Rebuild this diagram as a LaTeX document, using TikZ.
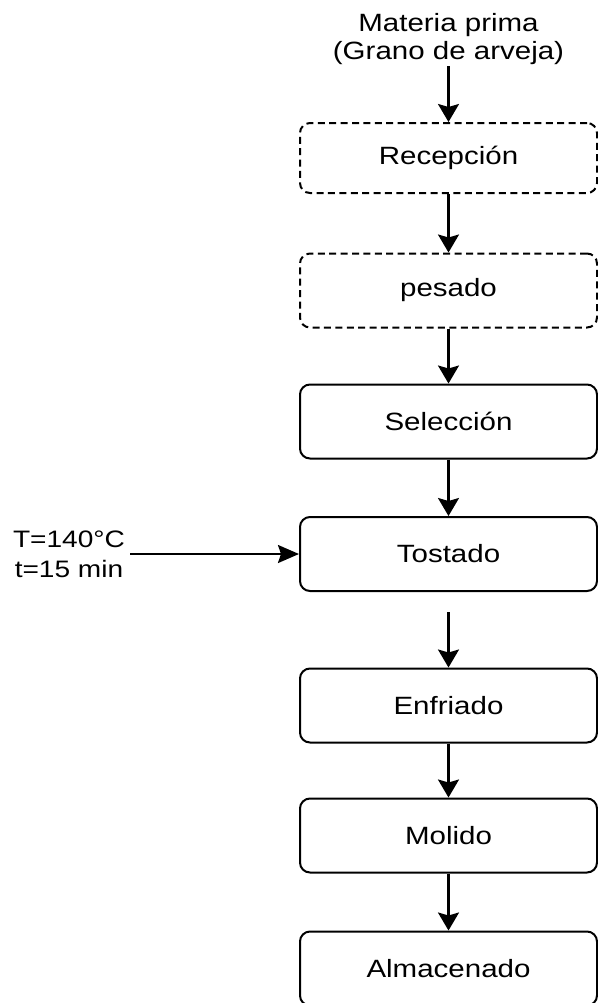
\documentclass[tikz,border=0pt]{standalone}
\usepackage{fontspec}
\setmainfont{Liberation Sans}[FakeStretch=1.18]
\usepackage{tikz}
\usetikzlibrary{arrows.meta}

\tikzset{
    etapa/.style={draw, line width=1pt, rounded corners=5pt, minimum width=148.5pt, minimum height=37pt, font=\fontsize{12.5}{12}\selectfont},
    etapad/.style={etapa, dash pattern=on 3.5pt off 2.2pt},
    texto/.style={align=center, font=\fontsize{12.5}{14.3}\selectfont},
    flecha/.style={line width=1.1pt, -{Stealth[length=9pt, width=10.5pt, inset=1.5pt]}},
    flechah/.style={line width=1.1pt, -{Stealth[length=10.5pt, width=9pt, inset=1.5pt]}}
}

\begin{document}
\begin{tikzpicture}[x=0.5pt, y=-0.5pt]
    \useasboundingbox (0,0) rectangle (598,1003);

    % entrada
    \node[texto, inner sep=0.5pt] (materia) at (448.5,39) {Materia prima\\(Grano de arveja)};

    % etapas
    \node[etapad, minimum height=35pt] (recepcion) at (448.5,158) {Recepción};
    \node[etapad] (pesado) at (448.5,290.5) {pesado};
    \node[etapa] (seleccion) at (448.5,421.5) {Selección};
    \node[etapa] (tostado) at (448.5,554) {Tostado};
    \node[etapa] (enfriado) at (448.5,705.5) {Enfriado};
    \node[etapa] (molido) at (448.5,835.5) {Molido};
    \node[etapa] (almacenado) at (448.5,968.5) {Almacenado};

    % condiciones
    \node[texto, font=\fontsize{11.9}{15}\selectfont, inner sep=2.5pt] (cond) at (69,554) {T=140°C\\t=15 min};

    % flechas
    \coordinate (salida) at (448.5,612);
    \draw[flecha] (materia) -- (recepcion);
    \draw[flecha] (recepcion) -- (pesado);
    \draw[flecha] (pesado) -- (seleccion);
    \draw[flecha] (seleccion) -- (tostado);
    \draw[flecha] (salida) -- (enfriado);
    \draw[flecha] (enfriado) -- (molido);
    \draw[flecha] (molido) -- (almacenado);
    \draw[flechah] (cond) -- (tostado);
\end{tikzpicture}
\end{document}
